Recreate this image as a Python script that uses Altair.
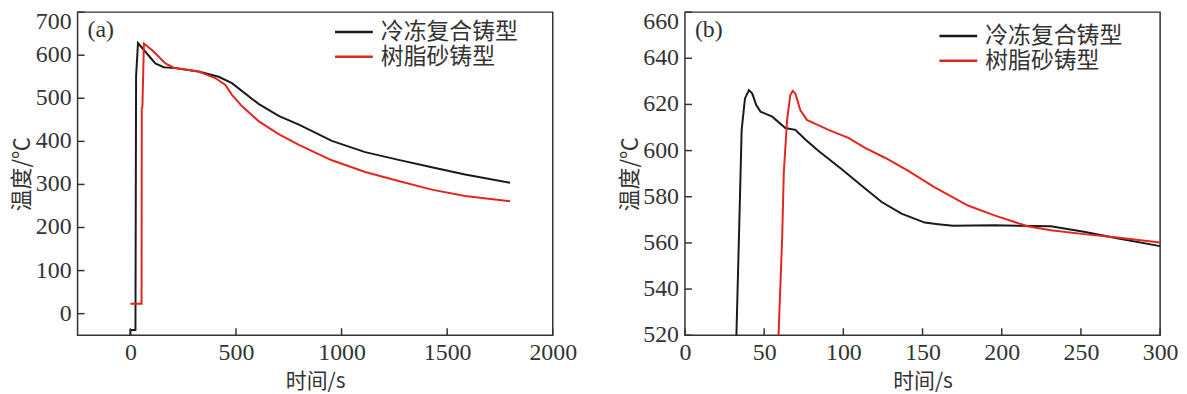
import altair as alt
import pandas as pd

series = ["冷冻复合铸型", "树脂砂铸型"]
colors = ["#1a1a1a", "#e5261d"]
tags = ["(a)", "(b)"]
x_title = "时间/s"
y_title = "温度/℃"

# Panel (a)
a_black_t = [0, 0, 24, 27, 36, 71, 118, 158, 213, 323, 418, 481, 607, 702, 798, 954, 1112, 1270, 1427, 1585, 1798]
a_black_T = [-50, -38, -38, 551, 628, 608, 581, 572, 570, 562, 550, 535, 487, 459, 439, 401, 375, 357, 340, 323, 304]
a_red_t = [0, 53, 54, 57, 64, 102, 166, 205, 323, 402, 450, 481, 528, 607, 702, 798, 954, 1112, 1270, 1427, 1585, 1798]
a_red_T = [23, 23, 478, 480, 627, 612, 581, 571, 562, 547, 531, 508, 482, 447, 417, 392, 356, 329, 308, 288, 273, 261]
a_xdomain = [-250, 2000]
a_ydomain = [-50, 700]
a_xticks = [0, 500, 1000, 1500, 2000]
a_yticks = [0, 100, 200, 300, 400, 500, 600, 700]

# Panel (b)
b_black_t = [32.3, 34.1, 35.8, 37.9, 40.4, 42.5, 45.0, 47.7, 55.1, 63.4, 69.7, 76.0, 84.4, 99.0, 111.6, 124.2,
             136.7, 151.4, 159.7, 169.2, 195.4, 231.0, 251.9, 272.8, 300.0]
b_black_T = [515, 562.7, 609, 622.6, 626.2, 624.7, 619.7, 616.9, 614.7, 609.8, 609.0, 604.8, 599.8, 591.9, 584.8, 577.7,
             572.7, 568.8, 568.1, 567.4, 567.6, 567.2, 564.8, 562.0, 558.6]
b_red_t = [58.8, 61.4, 62.4, 64.5, 66.5, 68.0, 69.7, 72.8, 77.0, 90.6, 103.2, 113.7, 126.3, 141.0, 157.7, 178.7,
           195.4, 216.3, 231.0, 252.0, 272.8, 300.0]
b_red_T = [515, 562.7, 590.5, 613.3, 624.0, 625.9, 624.7, 617.6, 613.3, 609.0, 605.5, 601.2, 596.9, 591.2, 584.1, 576.2,
           571.9, 567.2, 565.5, 563.8, 562.3, 560.2]
b_xdomain = [0, 300]
b_ydomain = [520, 660]
b_xticks = [0, 50, 100, 150, 200, 250, 300]
b_yticks = [520, 540, 560, 580, 600, 620, 640, 660]

W, H = 478, 325
TXT = "#333333"
SERIF = "Liberation Serif"
CJK = "Noto Sans CJK SC"


def make_df(t, T, name):
    return pd.DataFrame({"t": t, "T": T, "s": name, "o": list(range(len(t)))})


def panel(black_t, black_T, red_t, red_T, xdom, ydom, xticks, yticks, tag, legx, legy, leggap):
    df = pd.concat([make_df(black_t, black_T, series[0]), make_df(red_t, red_T, series[1])], ignore_index=True)
    xs = alt.Scale(domain=xdom, nice=False, zero=False)
    ys = alt.Scale(domain=ydom, nice=False, zero=False)
    lines = alt.Chart(df).mark_line(strokeWidth=2, clip=True).encode(
        x=alt.X("t:Q", scale=xs, title=x_title,
                axis=alt.Axis(values=xticks, format="d", labelFont=SERIF, labelFontSize=24, labelColor=TXT,
                              labelPadding=5, labelFlush=False, titlePadding=7, titleFont=CJK,
                              titleFontSize=21, titleFontWeight="normal", titleColor=TXT)),
        y=alt.Y("T:Q", scale=ys, title=y_title,
                axis=alt.Axis(values=yticks, labels=False, titlePadding=44, titleFont=CJK,
                              titleFontSize=22, titleFontWeight="normal", titleColor=TXT)),
        color=alt.Color("s:N", scale=alt.Scale(domain=series, range=colors), legend=None),
        order="o:Q",
    )
    xt = alt.Chart(pd.DataFrame({"v": xticks})).mark_rule(color=TXT, strokeWidth=1.5).encode(
        x=alt.X("v:Q", scale=xs), y=alt.value(H), y2=alt.value(H - 7))
    yt = alt.Chart(pd.DataFrame({"v": yticks})).mark_rule(color=TXT, strokeWidth=1.5).encode(
        y=alt.Y("v:Q", scale=ys), x=alt.value(0), x2=alt.value(7))
    ylab_mid = alt.Chart(pd.DataFrame({"v": yticks[:-1]})).mark_text(
        font=SERIF, fontSize=24, align="right", baseline="middle", color=TXT).encode(
        y=alt.Y("v:Q", scale=ys), x=alt.value(-6), text=alt.Text("v:Q", format="d"))
    ylab_top = alt.Chart(pd.DataFrame({"v": yticks[-1:]})).mark_text(
        font=SERIF, fontSize=24, align="right", baseline="top", dy=-2, color=TXT).encode(
        y=alt.Y("v:Q", scale=ys), x=alt.value(-6), text=alt.Text("v:Q", format="d"))
    lab = alt.Chart(pd.DataFrame({"lab": [tag]})).mark_text(
        font=SERIF, fontSize=24, align="left", baseline="middle", color=TXT).encode(
        x=alt.value(10), y=alt.value(18), text="lab:N")
    layers = [lines, xt, yt, ylab_mid, ylab_top, lab]
    # legend (drawn as rule + text per series)
    for i, name in enumerate(series):
        row = pd.DataFrame({"s": [name]})
        ypos = legy + leggap * i
        layers.append(alt.Chart(row).mark_rule(strokeWidth=2.5, color=colors[i]).encode(
            x=alt.value(legx), x2=alt.value(legx + 38), y=alt.value(ypos)))
        layers.append(alt.Chart(row).mark_text(
            font=CJK, fontSize=23, align="left", baseline="middle", color=TXT).encode(
            x=alt.value(legx + 46), y=alt.value(ypos), text="s:N"))
    return alt.layer(*layers).properties(width=W, height=H)


pa = panel(a_black_t, a_black_T, a_red_t, a_red_T, a_xdomain, a_ydomain, a_xticks, a_yticks, tags[0], 259, 20, 25)
pb = panel(b_black_t, b_black_T, b_red_t, b_red_T, b_xdomain, b_ydomain, b_xticks, b_yticks, tags[1], 256, 24, 25)

chart = alt.hconcat(pa, pb, spacing=133, bounds="flush").properties(
    padding={"left": 2, "top": 0, "right": 0, "bottom": 0}, background="white"
).configure_view(stroke="#333333", strokeWidth=1.5).configure_axis(
    ticks=False, domain=False, grid=False,
)

chart.save("out.html", embed_options={"renderer": "svg", "actions": False})
